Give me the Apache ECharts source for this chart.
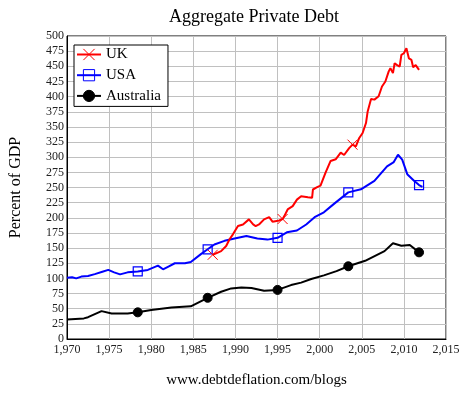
<!DOCTYPE html>
<html>
<head>
<meta charset="utf-8">
<script src="https://cdn.jsdelivr.net/npm/echarts@6/dist/echarts.min.js"></script>
<style>
html,body{margin:0;padding:0;background:#fff;}
#chart{width:467px;height:393px;}
</style>
</head>
<body>
<div id="chart"></div>
<script>
const xTicks = [1970, 2015, 5];
const yTicks = [0, 500, 25];

const ukYears = [1987.3,1987.9,1988.3,1988.9,1989.3,1989.7,1990.3,1990.9,1991.6,1992.1,1992.4,1992.8,1993.4,1994.0,1994.4,1995.2,1995.6,1995.8,1996.2,1996.8,1997.3,1997.8,1998.6,1999.1,1999.2,1999.7,2000.1,2000.7,2001.3,2001.9,2002.5,2002.9,2003.5,2003.9,2004.3,2004.7,2005.1,2005.5,2005.7,2006.1,2006.5,2007.0,2007.4,2007.8,2008.2,2008.4,2008.7,2008.9,2009.2,2009.5,2009.7,2010.0,2010.3,2010.6,2010.9,2011.1,2011.4,2011.5,2011.8];
const ukValues = [139,142.6,145,153.5,164.5,172.7,186.4,189,197.4,189,186.4,189,197.4,201,193.6,195.7,198,202.8,213.8,219.3,230,235.7,234,233,246.7,250.5,253,274.6,293.8,296.5,307.5,303.6,315,320.7,318,331.7,340,356.4,375.5,396,395,400.5,416.7,425,441.6,447,438.7,455,452,449.6,468.8,471.5,479.8,463,460.5,448.5,452,454,444];
const ukMarkerYears = [1987.3, 1995.6, 2003.9];

const usaYears = [1970.0,1970.6,1971.1,1971.7,1972.5,1973.3,1974.2,1974.9,1975.6,1976.3,1977.2,1978.4,1979.6,1980.8,1981.4,1982.1,1982.8,1984.0,1984.7,1985.9,1986.7,1987.5,1988.7,1989.9,1991.3,1992.6,1993.8,1995.0,1996.1,1997.3,1998.4,1999.4,2000.5,2001.7,2003.4,2004.9,2006.5,2008.0,2008.8,2009.3,2009.8,2010.4,2011.2,2011.8,2012.2];
const usaValues = [101,102,100,103,104,107,111,114,110,106.6,110,111.5,114,121,115,120,125,125,127,140,148,156,162,166,170,166,164,167,176,179,189,201,209,223,242,247,261,285,292,304,296,272,261,254,251];
const usaMarkerYears = [1978.4, 1986.7, 1995.0, 2003.4, 2011.8];

const ausYears = [1970.0,1971.0,1972.0,1972.5,1973.3,1974.1,1975.3,1976.0,1977.2,1978.4,1980.0,1982.4,1984.7,1986.7,1988.3,1989.5,1990.7,1991.9,1993.4,1995.0,1996.6,1997.8,1999.0,2000.5,2002.0,2003.4,2005.4,2007.7,2008.7,2009.7,2010.7,2011.8];
const ausValues = [32,33,34,36,41,46,42,42,42,44,48,52,54,68,78,83.5,85,84,79.6,81,89,93,99,105,112,120,129,145,158,154,155,143];
const ausMarkerYears = [1978.4, 1986.7, 1995.0, 2003.4, 2011.8];

function build(years, values, markers) {
  return years.map((y, i) => {
    const item = { value: [y, values[i]] };
    if (markers.indexOf(y) < 0) item.symbol = 'none';
    return item;
  });
}

const FONT = '"Liberation Serif", "Times New Roman", serif';
const chart = echarts.init(document.getElementById('chart'), null, { renderer: 'canvas' });

chart.setOption({
  animation: false,
  backgroundColor: '#fff',
  title: {
    text: 'Aggregate Private Debt',
    left: 254, textAlign: 'center', top: 8, padding: 0,
    textStyle: { fontFamily: FONT, fontSize: 18, fontWeight: 'normal', color: '#000' }
  },
  legend: {
    orient: 'vertical', left: 74, top: 45,
    padding: [2, 7, 3, 2],
    itemGap: 5.7, itemWidth: 24, itemHeight: 14,
    borderColor: '#000', borderWidth: 1, backgroundColor: '#fff',
    textStyle: { fontFamily: FONT, fontSize: 15, color: '#000' },
    itemStyle: { borderWidth: 1 },
    data: ['UK', 'USA', 'Australia']
  },
  grid: {
    left: 66, right: 21, top: 36, bottom: 53,
    show: true, borderColor: '#000', borderWidth: 1
  },
  xAxis: {
    type: 'value', min: xTicks[0], max: xTicks[1], interval: xTicks[2],
    name: 'www.debtdeflation.com/blogs', nameLocation: 'middle', nameGap: 34,
    nameTextStyle: { fontFamily: FONT, fontSize: 15, color: '#000' },
    axisLine: { lineStyle: { color: '#000', width: 1 } },
    axisTick: { show: false },
    axisLabel: { fontFamily: FONT, fontSize: 12, color: '#222', margin: 5 },
    splitLine: { show: true, lineStyle: { color: '#c0c0c0', width: 1 } }
  },
  yAxis: {
    type: 'value', min: yTicks[0], max: yTicks[1], interval: yTicks[2],
    name: 'Percent of GDP', nameLocation: 'middle', nameGap: 43,
    nameTextStyle: { fontFamily: FONT, fontSize: 16, color: '#000' },
    axisLine: { show: true, lineStyle: { color: '#000', width: 1 } },
    axisTick: { show: false },
    axisLabel: { fontFamily: FONT, fontSize: 12, color: '#222', margin: 3 },
    splitLine: { show: true, lineStyle: { color: '#c0c0c0', width: 1 } }
  },
  series: [
    {
      name: 'UK', type: 'line', showAllSymbol: true,
      symbol: 'path://M0,0L10,10M0,10L10,0', symbolSize: 10,
      lineStyle: { color: '#ff0000', width: 2 },
      itemStyle: { color: 'transparent', borderColor: '#ff0000', borderWidth: 1 },
      data: build(ukYears, ukValues, ukMarkerYears), z: 3
    },
    {
      name: 'USA', type: 'line', showAllSymbol: true,
      symbol: 'path://M0,0H10V10H0Z', symbolSize: 9,
      lineStyle: { color: '#0000ff', width: 2 },
      itemStyle: { color: 'transparent', borderColor: '#0000ff', borderWidth: 1.2 },
      data: build(usaYears, usaValues, usaMarkerYears), z: 2
    },
    {
      name: 'Australia', type: 'line', showAllSymbol: true,
      symbol: 'circle', symbolSize: 9,
      lineStyle: { color: '#000', width: 2 },
      itemStyle: { color: '#000', borderColor: '#000', borderWidth: 1 },
      data: build(ausYears, ausValues, ausMarkerYears), z: 2
    }
  ]
});
</script>
</body>
</html>
